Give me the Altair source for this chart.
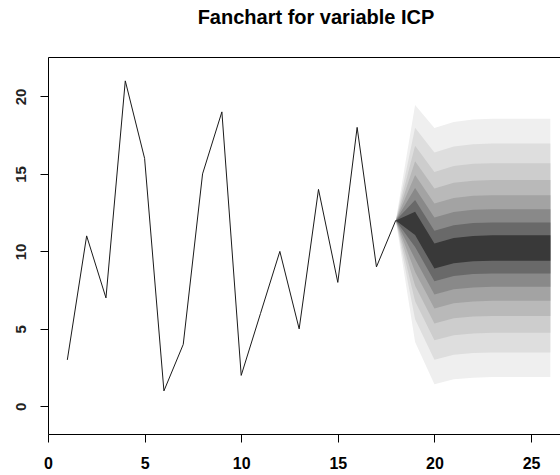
import altair as alt
import pandas as pd

# Observed series
obs_t = list(range(1, 19))
obs_val = [3, 11, 7, 21, 16, 1, 4, 15, 19, 2, 6, 10, 5, 14, 8, 18, 9, 12]

# Forecast path: point forecast and standard error per step (step 0 = last observation)
fc_t = [18, 19, 20, 21, 22, 23, 24, 25, 26]
fc_mean = [12.0, 11.8, 9.7, 10.05, 10.18, 10.22, 10.22, 10.22, 10.22]
fc_se = [0.0, 5.96, 6.45, 6.48, 6.5, 6.5, 6.5, 6.5, 6.5]

# Confidence levels of the fan, widest first, with their normal quantiles
ci_levels = [0.9, 0.8, 0.7, 0.6, 0.5, 0.4, 0.3, 0.2, 0.1]
ci_z = [1.6449, 1.2816, 1.0364, 0.8416, 0.6745, 0.5244, 0.3853, 0.2533, 0.1257]
band_gray = ["#ffffff", "#efefef", "#dedede", "#cdcdcd", "#b9b9b9",
             "#a3a3a3", "#898989", "#696969", "#393939"]

x_ticks = [0, 5, 10, 15, 20, 25]
y_ticks = [0, 5, 10, 15, 20]

FONT = "Liberation Sans"
x_scale = alt.Scale(domain=[0, 26.5], nice=False, zero=False)
y_scale = alt.Scale(domain=[-1.78, 22.54], nice=False, zero=False)

x_axis = alt.Axis(values=x_ticks, title=None, grid=False, orient="bottom",
                  domainColor="black", domainWidth=1, tickColor="black",
                  tickSize=8, tickWidth=1, labelFont=FONT, labelFontSize=16,
                  labelFontWeight="bold", labelColor="black", labelPadding=13,
                  labelFlush=False)
x_axis_top = alt.Axis(title=None, grid=False, orient="top", labels=False,
                      ticks=False, domainColor="black", domainWidth=1)
y_axis = alt.Axis(values=y_ticks, title=None, grid=False, orient="left",
                  domainColor="black", domainWidth=1, tickColor="black",
                  tickSize=8, tickWidth=1, labelFont=FONT, labelFontSize=15,
                  labelFontWeight="bold", labelColor="#222222", labelAngle=270,
                  labelAlign="center", labelBaseline="bottom", labelPadding=12)

layers = []
for level, z, gray in zip(ci_levels, ci_z, band_gray):
    band = pd.DataFrame({
        "t": fc_t,
        "lower": [m - z * s for m, s in zip(fc_mean, fc_se)],
        "upper": [m + z * s for m, s in zip(fc_mean, fc_se)],
        "ci": level,
    })
    first = len(layers) == 0
    layers.append(
        alt.Chart(band).mark_area(color=gray, opacity=1, strokeWidth=0).encode(
            x=alt.X("t:Q", scale=x_scale, axis=x_axis_top if first else None),
            y=alt.Y("lower:Q", scale=y_scale, axis=y_axis),
            y2="upper:Q",
        )
    )

obs = pd.DataFrame({"t": obs_t, "value": obs_val})
line = alt.Chart(obs).mark_line(color="#1a1a1a", strokeWidth=1).encode(
    x=alt.X("t:Q", scale=x_scale, axis=x_axis),
    y=alt.Y("value:Q", scale=y_scale, axis=y_axis),
)

chart = alt.layer(*layers, line).properties(
    width=512,
    height=377,
    padding={"left": 48, "top": 57, "right": 0, "bottom": 41},
    autosize=alt.AutoSizeParams(type="none"),
    title=alt.TitleParams(
        text="Fanchart for variable ICP", font=FONT, fontSize=20,
        fontWeight="bold", color="black", anchor="middle", frame="group",
        baseline="alphabetic", offset=13, dx=12,
    ),
).configure_view(stroke=None).configure(background="white")

chart.save("out.html", embed_options={"renderer": "svg", "actions": False})
